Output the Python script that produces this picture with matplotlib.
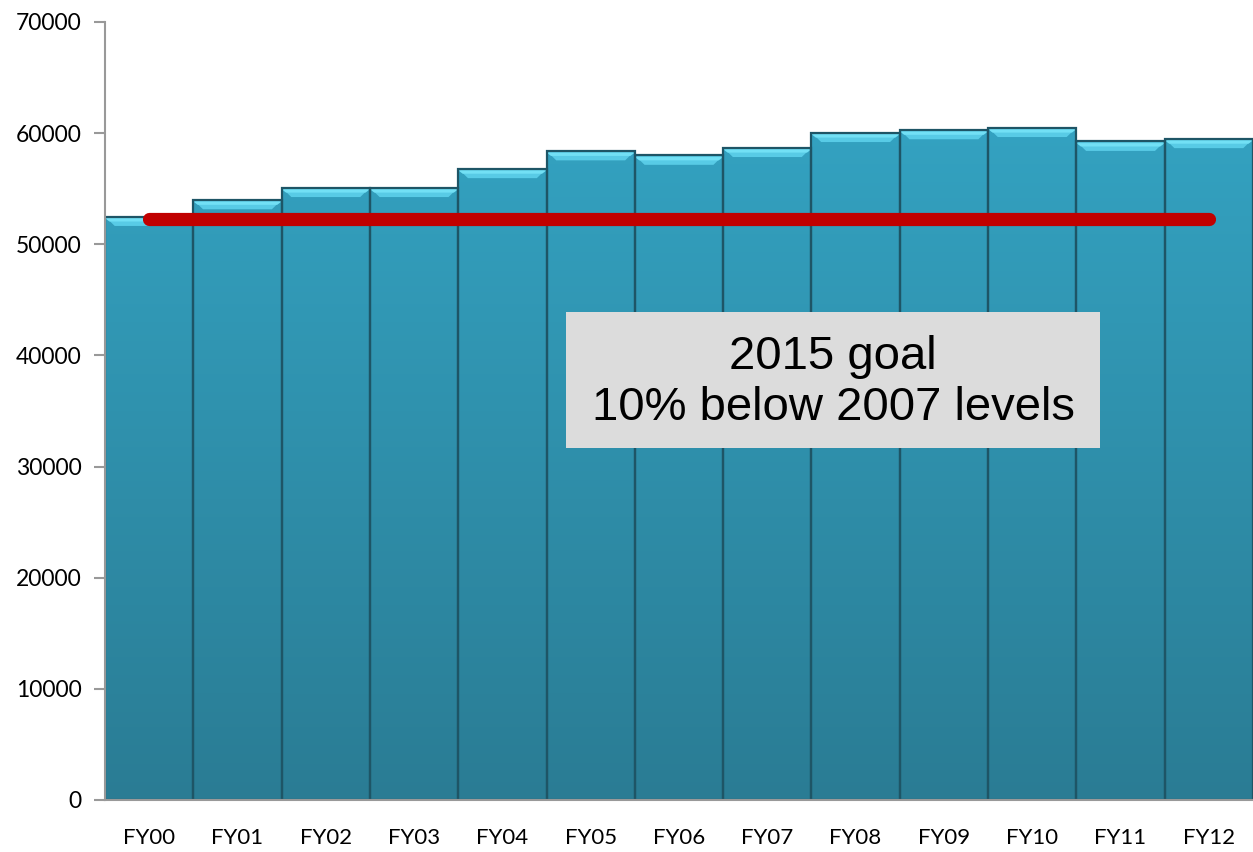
import numpy as np
import matplotlib
matplotlib.use("Agg")
import matplotlib.pyplot as plt
from matplotlib.patches import Rectangle, Polygon
from matplotlib.colors import LinearSegmentedColormap

categories = ["FY00", "FY01", "FY02", "FY03", "FY04", "FY05", "FY06",
              "FY07", "FY08", "FY09", "FY10", "FY11", "FY12"]
values = [52500, 54000, 55100, 55100, 56800, 58400, 58000,
          58700, 60050, 60300, 60500, 59250, 59500]
goal_value = 52250
goal_label = "2015 goal\n10% below 2007 levels"
yticks = [0, 10000, 20000, 30000, 40000, 50000, 60000, 70000]

fig = plt.figure(figsize=(12.53, 8.52), dpi=100)
ax = fig.add_axes([105/1253, 1 - 800/852, (1253-105)/1253, (800-22)/852])

x = np.arange(len(categories))
bars = ax.bar(x, values, width=1.0, color="#33a3c3", edgecolor="none",
              linewidth=0, zorder=2)

# vertical gradient inside each bar
cmap = LinearSegmentedColormap.from_list("g", ["#2a7c94", "#35a8c8"])
grad = np.linspace(0, 1, 256).reshape(-1, 1)
bev_h = 850
bev_dx = 0.11
for b, v in zip(bars, values):
    x0, x1 = b.get_x(), b.get_x() + b.get_width()
    im = ax.imshow(grad, extent=[x0, x1, 0, 70000],
                   origin="lower", aspect="auto", cmap=cmap, zorder=2.1)
    im.set_clip_path(b)
    # top bevel highlight (trapezoid)
    ax.add_patch(Polygon([(x0, v), (x1, v), (x1 - bev_dx, v - bev_h),
                          (x0 + bev_dx, v - bev_h)], closed=True,
                         facecolor="#58cbe6", edgecolor="none", zorder=2.2))
    ax.add_patch(Polygon([(x0, v - 150), (x1, v - 150), (x1 - 0.05, v - 450),
                          (x0 + 0.05, v - 450)], closed=True,
                         facecolor="#72e0f5", edgecolor="none", zorder=2.25))
    ax.add_patch(Rectangle((x0, 0), b.get_width(), v, facecolor="none",
                           edgecolor="#1e5566", linewidth=1.6, zorder=2.3))

ax.set_xlim(-0.5, len(categories) - 0.5)
ax.set_ylim(0, 70000)
ax.set_yticks(yticks)
ax.set_xticks(x)
ax.set_xticklabels(categories)

for s in ["top", "right"]:
    ax.spines[s].set_visible(False)
for s in ["left", "bottom"]:
    ax.spines[s].set_color("#999999")
    ax.spines[s].set_linewidth(1.5)
ax.tick_params(axis="y", length=8, color="#999999", width=1.5, pad=9,
               labelsize=16.5)
ax.tick_params(axis="x", length=0, pad=20, labelsize=16)
for lab in ax.get_xticklabels() + ax.get_yticklabels():
    lab.set_family(["Lato", "DejaVu Sans"])

# goal line
ax.plot([x[0], x[-1]], [goal_value, goal_value], color="#c00000",
        linewidth=9.5, solid_capstyle="round", zorder=4)

# annotation box
ax.add_patch(Rectangle((4.72, 31700), 6.05, 12200, facecolor="#dcdcdc",
                       edgecolor="none", zorder=5))
ax.text(7.745, 37550, goal_label, ha="center", va="center", fontsize=34,
        family=["Liberation Sans", "DejaVu Sans"], linespacing=1.22, zorder=6)

fig.savefig("out.png", dpi=100)
